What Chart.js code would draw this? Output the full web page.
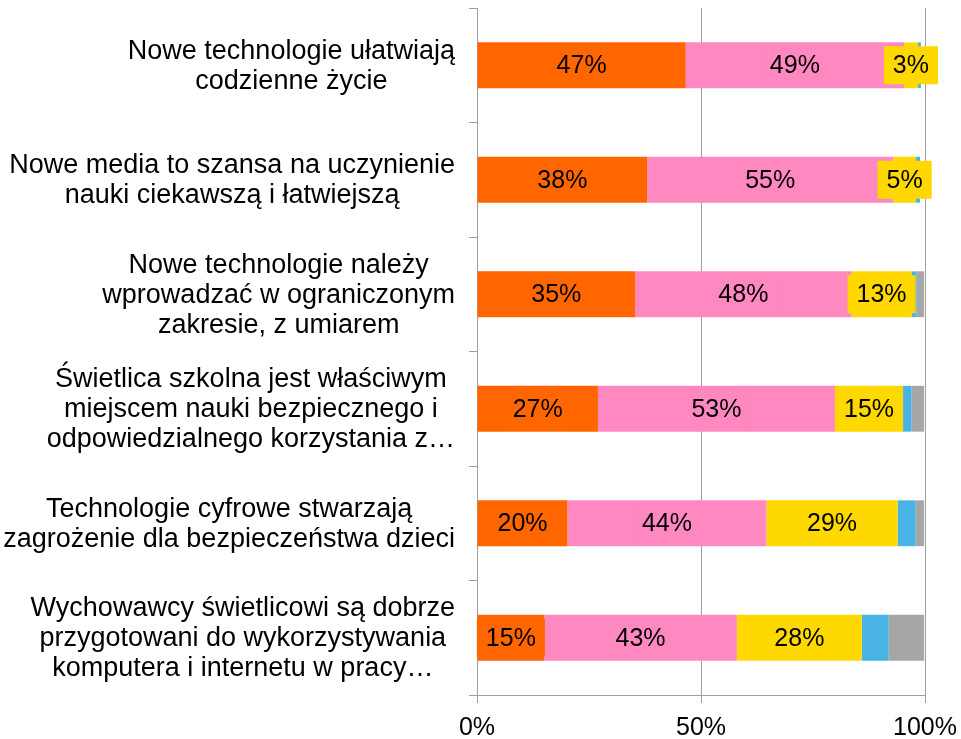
<!DOCTYPE html>
<html lang="pl">
<head>
<meta charset="utf-8">
<title>Nowe technologie w świetlicy</title>
<script src="https://cdn.jsdelivr.net/npm/chart.js@4.4.1/dist/chart.umd.min.js"></script>
<style>
  html, body { margin: 0; padding: 0; background: #FFFFFF; }
  canvas { display: block; }
</style>
</head>
<body>
<canvas id="grafico" width="961" height="739"></canvas>
<script>
// Kategorie (wiersze wykresu)
const kategorie = [
  ["Nowe technologie ułatwiają", "codzienne życie"],
  ["Nowe media to szansa na uczynienie", "nauki ciekawszą i łatwiejszą"],
  ["Nowe technologie należy", "wprowadzać w ograniczonym", "zakresie, z umiarem"],
  ["Świetlica szkolna jest właściwym", "miejscem nauki bezpiecznego i", "odpowiedzialnego korzystania z…"],
  ["Technologie cyfrowe stwarzają", "zagrożenie dla bezpieczeństwa dzieci"],
  ["Wychowawcy świetlicowi są dobrze", "przygotowani do wykorzystywania", "komputera i internetu w pracy…"]
];

// Serie (% odpowiedzi)
const zdecydowanieTak = [46.6, 38.0, 35.3, 27.0, 20.2, 15.0];
const raczejTak = [48.7, 54.9, 48.3, 52.9, 44.4, 43.0];
const raczejNie = [3.1, 5.1, 13.4, 15.2, 29.3, 27.9];
const zdecydowanieNie = [0.7, 0.9, 1.1, 1.9, 4.0, 6.0];
const trudnoPowiedziec = [0, 0, 1.7, 2.8, 1.9, 7.9];

// Etykiety osi X
const ticksX = [0, 50, 100];

const FONT = '"Liberation Sans", Arial, sans-serif';

// etykiety kategorii - wycentrowane linie, blok wyrównany do prawej
const etykietyY = {
  id: "etykietyY",
  afterDraw(chart) {
    const ctx = chart.ctx;
    const y = chart.scales.y;
    const prawa = chart.chartArea.left - 22;
    ctx.save();
    ctx.font = "27px " + FONT;
    ctx.fillStyle = "#000000";
    ctx.textAlign = "center";
    ctx.textBaseline = "middle";
    kategorie.forEach((linie, i) => {
      const srodek = y.getPixelForValue(i);
      let maxW = 0;
      linie.forEach((l) => { maxW = Math.max(maxW, ctx.measureText(l).width); });
      const cx = prawa - maxW / 2;
      linie.forEach((l, j) => {
        ctx.fillText(l, cx, srodek + (j - (linie.length - 1) / 2) * 30 + 1);
      });
    });
    ctx.restore();
  }
};

// etykiety wartości na słupkach (3 pierwsze serie)
const etykietyWartosci = {
  id: "etykietyWartosci",
  afterDatasetsDraw(chart) {
    const ctx = chart.ctx;
    ctx.save();
    ctx.font = "25px " + FONT;
    ctx.textAlign = "center";
    ctx.textBaseline = "middle";
    [0, 1, 2].forEach((d) => {
      const ds = chart.data.datasets[d];
      chart.getDatasetMeta(d).data.forEach((bar, i) => {
        const txt = Math.round(ds.data[i]) + "%";
        const cx = (bar.x + bar.base) / 2;
        const w = ctx.measureText(txt).width + 18;
        ctx.fillStyle = ds.backgroundColor;
        ctx.fillRect(cx - w / 2, bar.y - 19, w, 38);
        ctx.fillStyle = "#000000";
        ctx.fillText(txt, cx, bar.y + 1);
      });
    });
    ctx.restore();
  }
};

new Chart(document.getElementById("grafico"), {
  type: "bar",
  data: {
    labels: kategorie,
    datasets: [
      { label: "zdecydowanie tak", data: zdecydowanieTak, backgroundColor: "#FF6600" },
      { label: "raczej tak", data: raczejTak, backgroundColor: "#FF88C0" },
      { label: "raczej nie", data: raczejNie, backgroundColor: "#FFD800" },
      { label: "zdecydowanie nie", data: zdecydowanieNie, backgroundColor: "#4AB3E6" },
      { label: "trudno powiedzieć", data: trudnoPowiedziec, backgroundColor: "#A6A6A6" }
    ]
  },
  options: {
    indexAxis: "y",
    responsive: false,
    animation: false,
    categoryPercentage: 1,
    barPercentage: 0.4,
    layout: { padding: { top: 8, right: 36, left: 0, bottom: 0 } },
    scales: {
      x: {
        stacked: true,
        min: 0,
        max: 100,
        afterBuildTicks: (s) => { s.ticks = ticksX.map((v) => ({ value: v })); },
        afterFit: (s) => { s.height = 44; s.paddingRight = 0; s.paddingLeft = 0; },
        border: { display: true, color: "#9E9E9E" },
        grid: { color: "#9E9E9E", tickLength: 8, drawTicks: true },
        ticks: {
          color: "#000000",
          padding: 10,
          font: { family: FONT, size: 25 },
          callback: (v) => v + "%"
        }
      },
      y: {
        stacked: true,
        afterFit: (s) => { s.width = 477; },
        border: { display: true, color: "#9E9E9E" },
        grid: { offset: true, drawOnChartArea: false, color: "#9E9E9E", tickLength: 8 },
        ticks: { display: false }
      }
    },
    plugins: {
      legend: { display: false },
      tooltip: { enabled: false }
    }
  },
  plugins: [etykietyY, etykietyWartosci]
});
</script>
</body>
</html>
